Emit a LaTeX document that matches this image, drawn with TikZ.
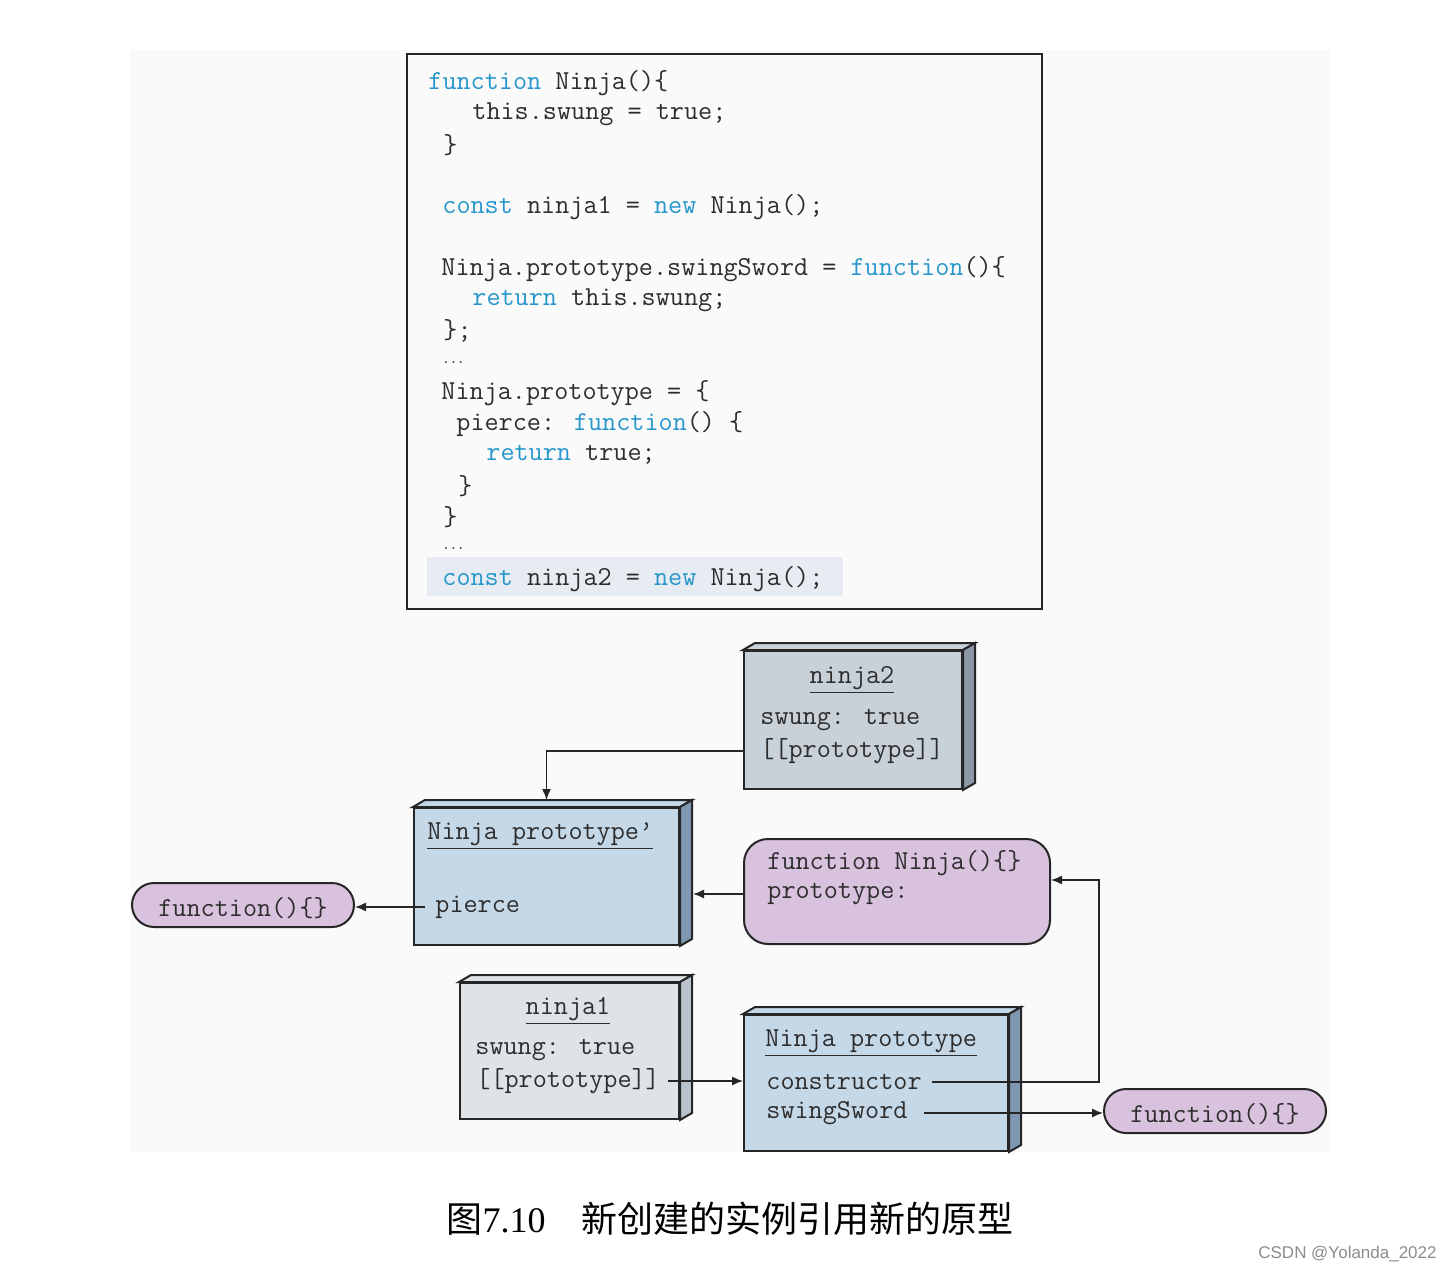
\documentclass[tikz,border=0pt]{standalone}
\usepackage{fontspec}
\setmainfont{Liberation Serif}
\newfontfamily\cjk{Noto Sans CJK SC}
\newfontfamily\wmfont{Liberation Sans}
\usetikzlibrary{arrows.meta,calc}
\definecolor{kw}{RGB}{38,150,205}
\definecolor{txt}{RGB}{45,45,45}
\definecolor{bgc}{RGB}{250,250,250}
\definecolor{hl}{RGB}{230,236,241}
\definecolor{grayfront}{RGB}{200,208,216}
\definecolor{grayside}{RGB}{140,152,166}
\definecolor{bluefront}{RGB}{197,216,232}
\definecolor{blueside}{RGB}{126,152,178}
\definecolor{lightfront}{RGB}{222,227,232}
\definecolor{lightside}{RGB}{184,194,204}
\definecolor{purp}{RGB}{217,194,222}
\newcommand\kwd[1]{\textcolor{kw}{#1}}
\newcommand\threedbox[3]{%
  \draw[line width=1pt, draw=black!85, fill=#2] (#1.north west) -- ++(12,-7) -- ($(#1.north east)+(12,-7)$) -- (#1.north east) -- cycle;
  \draw[line width=1pt, draw=black!85, fill=#3] (#1.north east) -- ++(12,-7) -- ($(#1.south east)+(12,-7)$) -- (#1.south east) -- cycle;}
\begin{document}
\begin{tikzpicture}[x=0.5pt,y=-0.5pt,
 code/.style={anchor=west, inner sep=0pt, yshift=-1.5pt, font=\ttfamily\fontsize{13.7}{15}\selectfont, text=txt},
 ctext/.style={code, anchor=center},
 face/.style={draw=black!85, line width=1pt, inner sep=0pt, anchor=north west},
 pill/.style={draw=black!85, line width=1pt, fill=purp, inner sep=0pt},
 conn/.style={line width=0.7pt, draw=black!85, -{Latex[length=5.5pt,width=4.5pt]}},
]
\useasboundingbox (0,0) rectangle (1450,1272);
\fill[white] (0,0) rectangle (1450,1272);
\fill[bgc] (130,50) rectangle (1330,1152);

% code box
\node[face, fill=bgc, minimum width=317.5pt, minimum height=277.5pt] (codebox) at (406,53) {};
\fill[hl] (427,557) rectangle (843,596);
\node[code] (c1) at (428,80) {\kwd{function} Ninja()\{};
\node[code] (c2) at (472,111) {this.swung = true;};
\node[code] (c3) at (443,142) {\}};
\node[code] (c5) at (442,204) {\kwd{const} ninja1 = \kwd{new} Ninja();};
\node[code] (c7) at (441,266) {Ninja.prototype.swingSword = \kwd{function}()\{};
\node[code] (c8) at (472,297) {\kwd{return} this.swung;};
\node[code] (c9) at (443,328) {\};};
\node[code] (c10) at (442,360) {\fontsize{7}{8}\selectfont\bfseries ...};
\node[code] (c11) at (441,390) {Ninja.prototype = \{};
\node[code] (c12) at (456,421) {pierce: \kwd{function}() \{};
\node[code] (c13) at (486,452) {\kwd{return} true;};
\node[code] (c14) at (458,483) {\}};
\node[code] (c15) at (443,514) {\}};
\node[code] (c16) at (442,546) {\fontsize{7}{8}\selectfont\bfseries ...};
\node[code] (c17) at (442,576) {\kwd{const} ninja2 = \kwd{new} Ninja();};

% ninja2 box
\node[face, fill=grayfront, minimum width=109pt, minimum height=69pt] (n2) at (743,650) {};
\threedbox{n2}{grayfront}{grayside}
\node[ctext] (n2t) at (852,677) {\underline{ninja2}};
\node[code] (n2s) at (760,717) {swung: true};
\node[code] (n2p) at (760,748) {[[prototype]]};

% Ninja prototype' box
\node[face, fill=bluefront, minimum width=132.5pt, minimum height=68.5pt] (npp) at (413,807) {};
\threedbox{npp}{bluefront}{blueside}
\node[code] (nppt) at (427,833) {\underline{Ninja prototype’}};
\node[code] (pierce) at (435,904) {pierce};

% function Ninja(){} rounded box
\node[face, fill=purp, rounded corners=12pt, minimum width=153pt, minimum height=52.5pt] (nfn) at (743,838) {};
\node[code] (fn1) at (767,860) {function Ninja()\{\}};
\node[code] (fproto) at (767,891) {prototype:};

% left pill
\node[pill, rounded corners=11pt, minimum width=111pt, minimum height=22pt] (pillL) at (243,905) {};
\node[ctext] (pillLt) at (243,905) {function()\{\}};

% ninja1 box
\node[face, fill=lightfront, minimum width=109.5pt, minimum height=68pt] (n1) at (459,982) {};
\threedbox{n1}{lightfront}{lightside}
\node[ctext] (n1t) at (568,1008) {\underline{ninja1}};
\node[code] (n1s) at (475,1047) {swung: true};
\node[code] (n1p) at (476,1078) {[[prototype]]};

% Ninja prototype box
\node[face, fill=bluefront, minimum width=132pt, minimum height=68pt] (np) at (743,1014) {};
\threedbox{np}{bluefront}{blueside}
\node[code] (npt) at (765,1040) {\underline{Ninja prototype}};
\node[code] (ctor) at (766,1079) {constructor};
\node[code] (sw) at (766,1110) {swingSword};

% right pill
\node[pill, rounded corners=11pt, minimum width=111pt, minimum height=22pt] (pillR) at (1215,1111) {};
\node[ctext] (pillRt) at (1215,1111) {function()\{\}};

% connectors
\draw[conn] (n2.west |- n2p) -| ($(npp.north)+(0,-7)$);
\draw[conn] ([xshift=-5pt]pierce.west) -- (pillL.east |- pierce.west);
\draw[conn] (nfn.west |- fproto) -- ($(npp.east |- fproto)+(13,0)$);
\draw[conn] ([xshift=4pt]n1p.east) -- (np.west |- n1p.east);
\coordinate (bend) at (1099,880);
\draw[conn] ([xshift=5pt]ctor.east) -- (ctor.east -| bend) -- (bend) -- (nfn.east |- bend);
\draw[conn] ([xshift=8pt]sw.east) -- (pillR.west |- sw.east);

% caption
\node (cap) at (730,1219) {\fontsize{18}{20}\selectfont{\cjk 图}7.10\hspace{18pt}{\cjk 新创建的实例引用新的原型}};
\node[anchor=east, text=black!45, inner sep=0pt] (wm) at (1437,1254) {\wmfont\fontsize{8.5}{9}\selectfont CSDN @Yolanda\_2022};
\end{tikzpicture}
\end{document}
